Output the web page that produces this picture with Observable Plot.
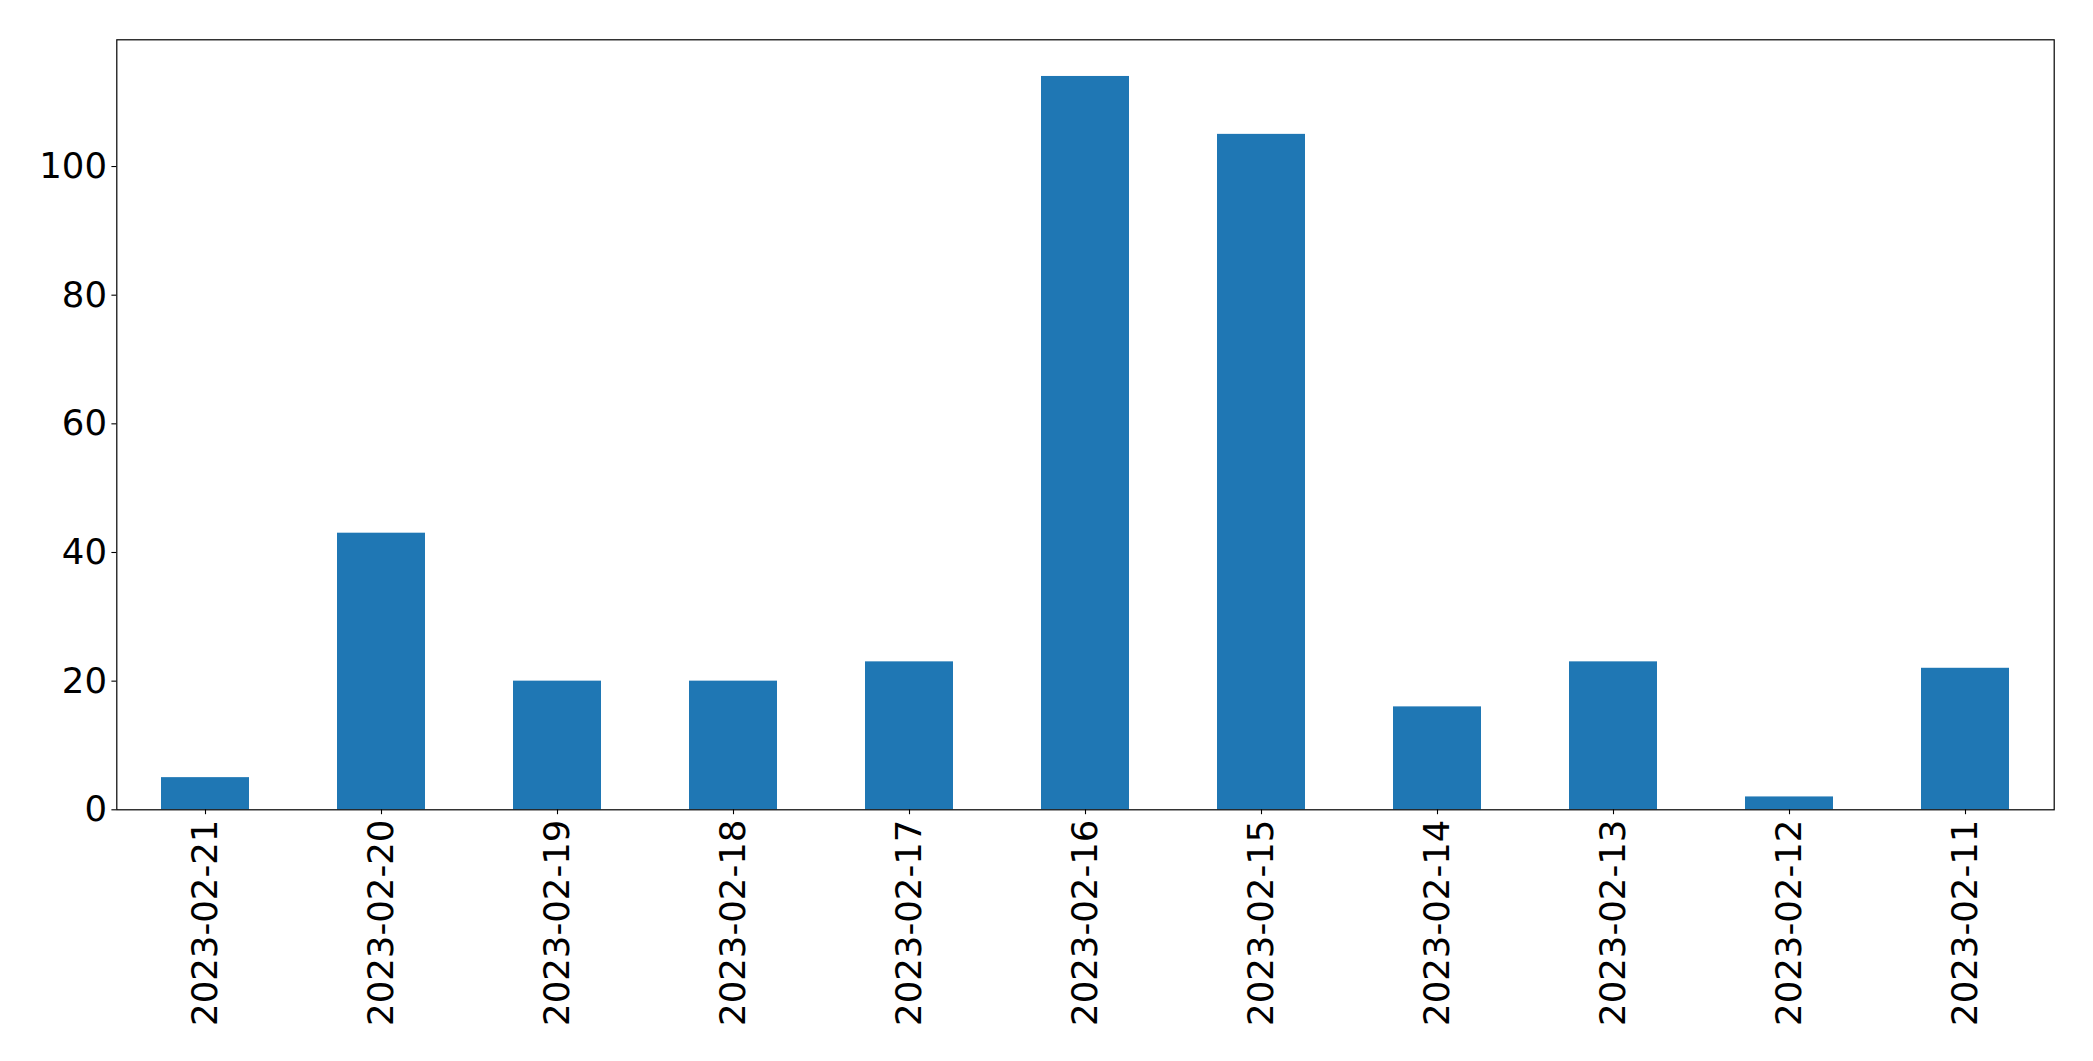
<!DOCTYPE html>
<html>
<head>
<meta charset="utf-8">
<script src="https://cdn.jsdelivr.net/npm/d3@7"></script>
<script src="https://cdn.jsdelivr.net/npm/@observablehq/plot@0.6"></script>
<style>
  html, body { margin: 0; padding: 0; background: #fff; }
  #chart { width: 2093px; height: 1061px; }
</style>
</head>
<body>
<div id="chart"></div>
<script>
const dates = ["2023-02-21","2023-02-20","2023-02-19","2023-02-18","2023-02-17","2023-02-16","2023-02-15","2023-02-14","2023-02-13","2023-02-12","2023-02-11"];
const counts = [5, 43, 20, 20, 23, 114, 105, 16, 23, 2, 22];
const yTicks = [0, 20, 40, 60, 80, 100];

const data = dates.map((d, i) => ({date: d, count: counts[i]}));
const yMax = d3.max(counts) * 1.05;

const chart = Plot.plot({
  width: 2093,
  height: 1061,
  marginLeft: 116.3,
  marginRight: 39.3,
  marginTop: 39.3,
  marginBottom: 251.7,
  style: {fontFamily: "DejaVu Sans", fontSize: "35.5px", color: "black", background: "white"},
  x: {domain: dates, paddingInner: 0.5, paddingOuter: 0.25, align: 0.5, label: null},
  y: {domain: [0, yMax], label: null},
  marks: [
    Plot.barY(data, {x: "date", y: "count", fill: "#1f77b4"}),
    Plot.axisY({ticks: yTicks, tickSize: 4.9, tickPadding: 4.9, label: null, strokeWidth: 1.1}),
    Plot.axisX({tickSize: 4.9, tickPadding: 4.9, tickRotate: -90, label: null, strokeWidth: 1.1}),
    Plot.frame({stroke: "black", strokeWidth: 1.2})
  ]
});
document.getElementById("chart").appendChild(chart);
</script>
</body>
</html>
